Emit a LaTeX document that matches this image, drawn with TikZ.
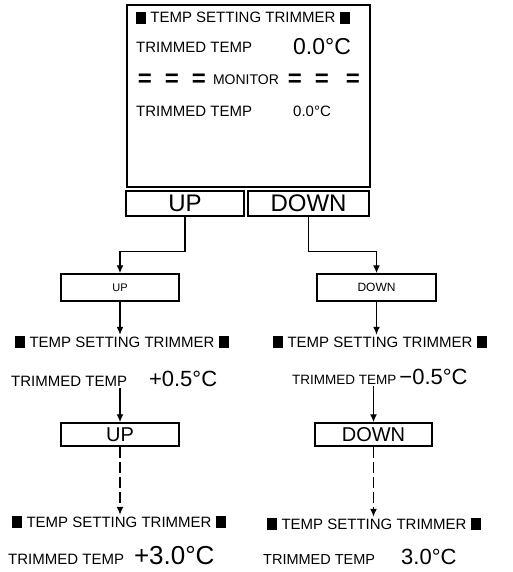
\documentclass[tikz,border=0pt]{standalone}
\usepackage{fontspec}
\setmainfont{Liberation Sans}
\usetikzlibrary{arrows.meta,positioning}

\newcommand{\blk}{\rule[-1pt]{10pt}{12pt}}
\newcommand{\valfont}{\fontsize{22}{22}\selectfont}
\newcommand{\capline}{\blk\ TEMP SETTING TRIMMER\ \blk}

\tikzset{
  btn/.style={draw,line width=1.5pt,inner sep=0pt},
  captxt/.style={font=\fontsize{15}{15}\selectfont,inner sep=1pt},
  eqs/.style={font=\fontsize{24}{24}\selectfont\bfseries,inner sep=0pt},
  flow/.style={line width=1.4pt,-{Latex[length=8pt,width=7pt]}},
  dflow/.style={flow,dash pattern=on 11pt off 4pt},
}

\begin{document}
\begin{tikzpicture}[x=1pt,y=-1pt]
 \useasboundingbox (0,0) rectangle (512,572);
 % display panel
 \node[btn,minimum width=243pt,minimum height=182pt] (screen) at (248.5,96) {};
 \node[captxt,anchor=west] (scap) at (135,18) {\capline};
 \node[captxt,anchor=west] (strim) at (135,47) {TRIMMED TEMP};
 \node[anchor=west,font=\fontsize{23}{23}\selectfont,inner sep=1pt] (sval) at (292,47) {0.0°C};
 \foreach \x [count=\i] in {145,172,199,295,322,353}
   \node[eqs] (eq\i) at (\x,80) {=};
 \node[captxt,font=\fontsize{14}{14}\selectfont] (mon) at (246,80) {MONITOR};
 \node[captxt,anchor=west] (mtrim) at (135,111) {TRIMMED TEMP};
 \node[captxt,anchor=west] (mval) at (292,111) {0.0°C};

 \node[btn,minimum width=118pt,minimum height=25pt,font=\fontsize{24}{24}\selectfont] (upbtn) at (185,203.5) {UP};
 \node[btn,minimum width=121pt,minimum height=25pt,font=\fontsize{24}{24}\selectfont] (downbtn) at (308.5,203.5) {DOWN};

 % left column
 \node[btn,minimum width=118pt,minimum height=27pt,font=\fontsize{11}{11}\selectfont] (up1) at (120,287.5) {UP};
 \node[captxt] (lcap1) at (122,342) {\capline};
 \node[captxt,anchor=west] (lval1) at (10,379) {TRIMMED TEMP\hspace{22pt}{\valfont +0.5°C}};
 \node[btn,minimum width=118pt,minimum height=23pt,font=\fontsize{20}{20}\selectfont] (up2) at (120,434.5) {UP};
 \node[captxt] (lcap2) at (119,522) {\capline};
 \node[captxt,anchor=west] (lval2) at (7,556) {TRIMMED TEMP\hspace{10pt}{\fontsize{26}{26}\selectfont +3.0°C}};

 % right column
 \node[btn,minimum width=119pt,minimum height=27pt,font=\fontsize{12}{12}\selectfont] (down1) at (376.5,287.5) {DOWN};
 \node[captxt] (rcap1) at (380,342) {\capline};
 \node[captxt,anchor=west,font=\fontsize{13.5}{13.5}\selectfont] (rval1) at (291,377) {TRIMMED TEMP\hspace{3pt}{\valfont −0.5°C}};
 \node[btn,minimum width=117pt,minimum height=23pt,font=\fontsize{20}{20}\selectfont] (down2) at (373.5,434.5) {DOWN};
 \node[captxt] (rcap2) at (374,524) {\capline};
 \node[captxt,anchor=west,font=\fontsize{14.5}{14.5}\selectfont] (rval2) at (262,557) {TRIMMED TEMP\hspace{26pt}{\valfont 3.0°C}};

 % connectors
 \draw[flow] (upbtn.south) -- ++(0,35) -| (up1.north);
 \draw[flow] (downbtn.south) -- ++(0,35) -| (down1.north);
 \draw[flow] (up1.south) -- (up1.south |- lcap1.north);
 \draw[flow] (down1.south) -- (down1.south |- rcap1.north);
 \draw[flow] (up2.north |- lval1.south) -- (up2.north);
 \draw[flow] (down2.north |- rval1.south) -- (down2.north);
 \draw[dflow] (up2.south) -- (up2.south |- lcap2.north);
 \draw[dflow] (down2.south) -- (down2.south |- rcap2.north);
\end{tikzpicture}
\end{document}
